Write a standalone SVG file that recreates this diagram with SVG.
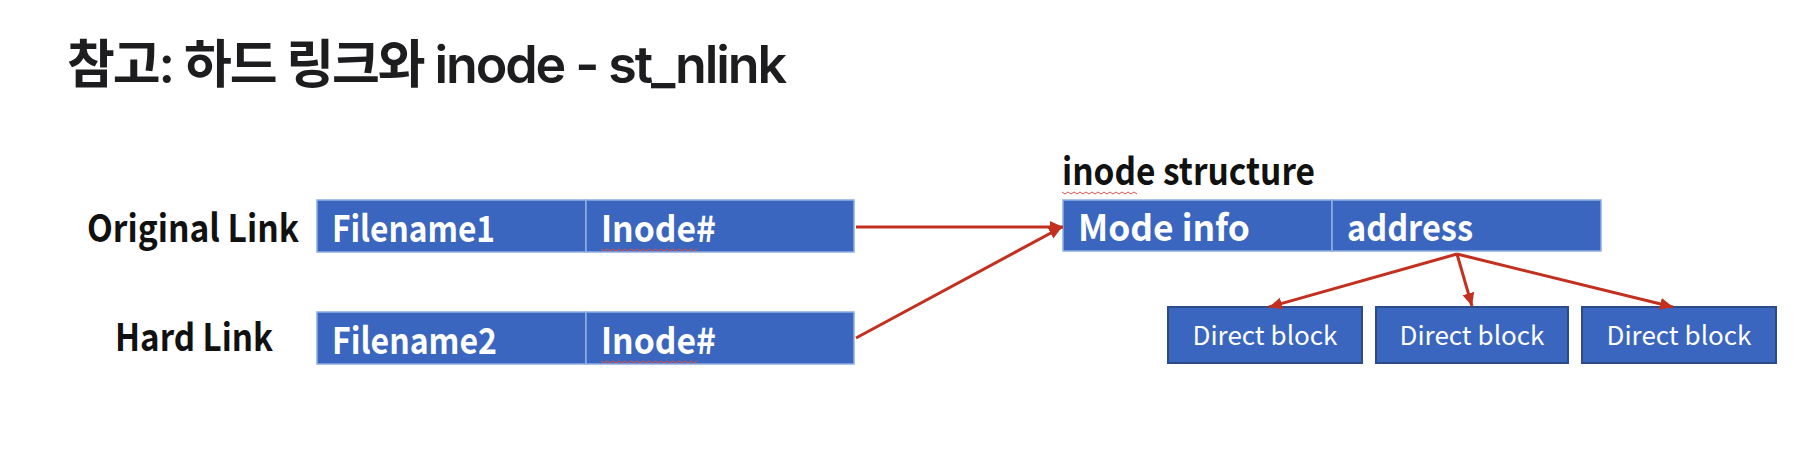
<svg xmlns="http://www.w3.org/2000/svg" width="1816" height="471" viewBox="0 0 1816 471">
  <style>
    .cell { fill: #3A66BF; stroke: #8FAEE3; stroke-width: 1.5; }
    .blk { fill: #3A66BF; stroke: #2B4A86; stroke-width: 2; }
    .lbl { font-family: "Noto Sans CJK KR", "Liberation Sans", sans-serif; font-weight: 700; fill: #111; }
    .ctx { font-family: "Noto Sans CJK KR", "Liberation Sans", sans-serif; font-weight: 700; fill: #ffffff; }
    .btx { font-family: "Noto Sans CJK KR", "Liberation Sans", sans-serif; font-weight: 400; fill: #ffffff; }
    .con { stroke: #C3301F; stroke-width: 3; fill: none; marker-end: url(#ah); }
    .sq { stroke: #D9534F; stroke-width: 1; fill: none; }
  </style>
  <defs>
    <marker id="ah" markerUnits="userSpaceOnUse" markerWidth="14" markerHeight="14" refX="13" refY="7" orient="auto">
      <path d="M0,1 L13,7 L0,13 z" fill="#C3301F"/>
    </marker>
  </defs>
  <rect width="1816" height="471" fill="#ffffff"/>

  <text x="67" y="83" font-family="Inter, 'Noto Sans CJK KR', sans-serif" font-weight="600" font-size="52" fill="#1d1d1f" textLength="720" lengthAdjust="spacing">참고: 하드 링크와 inode - st_nlink</text>

  <g id="original-link">
    <text class="lbl" x="87" y="242" font-size="38" textLength="212" lengthAdjust="spacingAndGlyphs">Original Link</text>
    <rect class="cell" x="317" y="200" width="269" height="52"/>
    <rect class="cell" x="586" y="200" width="268" height="52"/>
    <text class="ctx" x="332" y="242" font-size="36" textLength="163" lengthAdjust="spacingAndGlyphs">Filename1</text>
    <text class="ctx" x="601" y="242" font-size="36" textLength="115" lengthAdjust="spacingAndGlyphs">Inode#</text>
    <path class="sq" d="M601,249 l3,2 l3,-2 l3,2 l3,-2 l3,2 l3,-2 l3,2 l3,-2 l3,2 l3,-2 l3,2 l3,-2 l3,2 l3,-2 l3,2 l3,-2 l3,2 l3,-2 l3,2 l3,-2 l3,2 l3,-2 l3,2 l3,-2 l3,2 l3,-2 l3,2 l3,-2 l3,2 l3,-2 l3,2 l3,-2"/>
  </g>

  <g id="hard-link">
    <text class="lbl" x="115" y="351" font-size="38" textLength="158" lengthAdjust="spacingAndGlyphs">Hard Link</text>
    <rect class="cell" x="317" y="312" width="269" height="52"/>
    <rect class="cell" x="586" y="312" width="268" height="52"/>
    <text class="ctx" x="332" y="354" font-size="36" textLength="165" lengthAdjust="spacingAndGlyphs">Filename2</text>
    <text class="ctx" x="601" y="354" font-size="36" textLength="115" lengthAdjust="spacingAndGlyphs">Inode#</text>
    <path class="sq" d="M601,361 l3,2 l3,-2 l3,2 l3,-2 l3,2 l3,-2 l3,2 l3,-2 l3,2 l3,-2 l3,2 l3,-2 l3,2 l3,-2 l3,2 l3,-2 l3,2 l3,-2 l3,2 l3,-2 l3,2 l3,-2 l3,2 l3,-2 l3,2 l3,-2 l3,2 l3,-2 l3,2 l3,-2 l3,2 l3,-2"/>
  </g>

  <g id="inode-structure">
    <text class="lbl" x="1062" y="185" font-size="38" textLength="253" lengthAdjust="spacingAndGlyphs">inode structure</text>
    <path class="sq" d="M1062,192 l3,2 l3,-2 l3,2 l3,-2 l3,2 l3,-2 l3,2 l3,-2 l3,2 l3,-2 l3,2 l3,-2 l3,2 l3,-2 l3,2 l3,-2 l3,2 l3,-2 l3,2 l3,-2 l3,2 l3,-2 l3,2 l3,-2 l3,2"/>
    <rect class="cell" x="1063" y="200" width="269" height="51"/>
    <rect class="cell" x="1332" y="200" width="269" height="51"/>
    <text class="ctx" x="1078" y="241" font-size="36" textLength="172" lengthAdjust="spacingAndGlyphs">Mode info</text>
    <text class="ctx" x="1347" y="241" font-size="36" textLength="126" lengthAdjust="spacingAndGlyphs">address</text>
  </g>

  <g id="direct-block-1">
    <rect class="blk" x="1168" y="307" width="194" height="56"/>
    <text class="btx" x="1265" y="345" font-size="26" text-anchor="middle" textLength="145" lengthAdjust="spacingAndGlyphs">Direct block</text>
  </g>
  <g id="direct-block-2">
    <rect class="blk" x="1376" y="307" width="192" height="56"/>
    <text class="btx" x="1472" y="345" font-size="26" text-anchor="middle" textLength="145" lengthAdjust="spacingAndGlyphs">Direct block</text>
  </g>
  <g id="direct-block-3">
    <rect class="blk" x="1582" y="307" width="194" height="56"/>
    <text class="btx" x="1679" y="345" font-size="26" text-anchor="middle" textLength="145" lengthAdjust="spacingAndGlyphs">Direct block</text>
  </g>

  <g id="connectors">
    <line class="con" x1="856" y1="227" x2="1063" y2="227"/>
    <line class="con" x1="856" y1="338" x2="1062" y2="227"/>
    <line class="con" x1="1457" y1="254" x2="1269" y2="307"/>
    <line class="con" x1="1457" y1="254" x2="1472" y2="306"/>
    <line class="con" x1="1457" y1="254" x2="1673" y2="307"/>
  </g>
</svg>
